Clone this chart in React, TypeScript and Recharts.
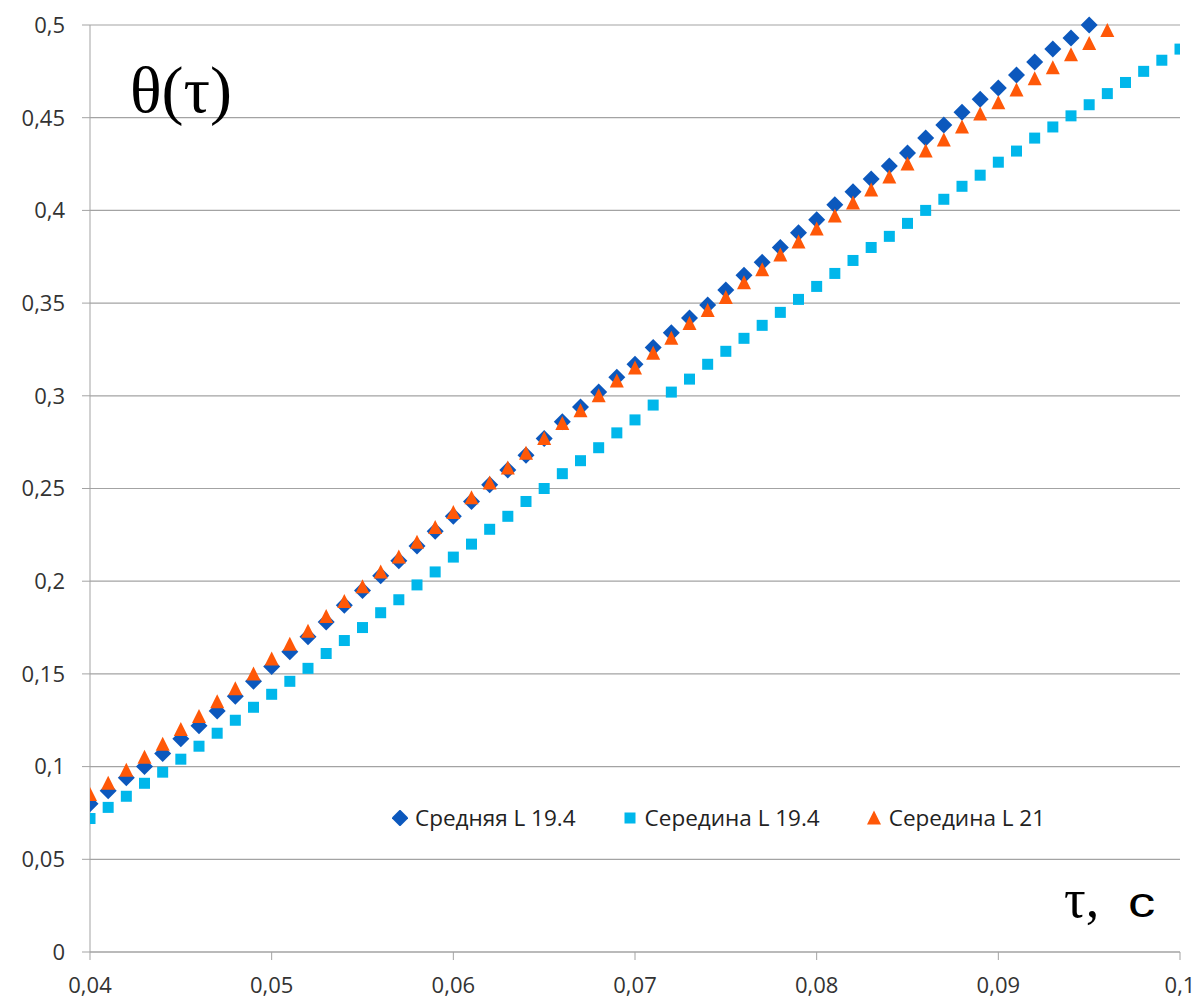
import React from 'react';
import {
  ScatterChart,
  Scatter,
  XAxis,
  YAxis,
  CartesianGrid,
  Legend,
} from 'recharts';

// tau, s (step 0.001)
const TAU = [
  0.040, 0.041, 0.042, 0.043, 0.044, 0.045, 0.046, 0.047, 0.048, 0.049,
  0.050, 0.051, 0.052, 0.053, 0.054, 0.055, 0.056, 0.057, 0.058, 0.059,
  0.060, 0.061, 0.062, 0.063, 0.064, 0.065, 0.066, 0.067, 0.068, 0.069,
  0.070, 0.071, 0.072, 0.073, 0.074, 0.075, 0.076, 0.077, 0.078, 0.079,
  0.080, 0.081, 0.082, 0.083, 0.084, 0.085, 0.086, 0.087, 0.088, 0.089,
  0.090, 0.091, 0.092, 0.093, 0.094, 0.095, 0.096, 0.097, 0.098, 0.099,
  0.100,
];

// Средняя L 19.4
const AVG_L194 = [
  0.080, 0.087, 0.094, 0.100, 0.107, 0.115, 0.122, 0.130, 0.138, 0.146,
  0.154, 0.162, 0.170, 0.178, 0.187, 0.195, 0.203, 0.211, 0.219, 0.227,
  0.235, 0.243, 0.252, 0.260, 0.268, 0.277, 0.286, 0.294, 0.302, 0.310,
  0.317, 0.326, 0.334, 0.342, 0.349, 0.357, 0.365, 0.372, 0.380, 0.388,
  0.395, 0.403, 0.410, 0.417, 0.424, 0.431, 0.439, 0.446, 0.453, 0.460,
  0.466, 0.473, 0.480, 0.487, 0.493, 0.500,
];

// Середина L 19.4
const MID_L194 = [
  0.072, 0.078, 0.084, 0.091, 0.097, 0.104, 0.111, 0.118, 0.125, 0.132,
  0.139, 0.146, 0.153, 0.161, 0.168, 0.175, 0.183, 0.190, 0.198, 0.205,
  0.213, 0.220, 0.228, 0.235, 0.243, 0.250, 0.258, 0.265, 0.272, 0.280,
  0.287, 0.295, 0.302, 0.309, 0.317, 0.324, 0.331, 0.338, 0.345, 0.352,
  0.359, 0.366, 0.373, 0.380, 0.386, 0.393, 0.400, 0.406, 0.413, 0.419,
  0.426, 0.432, 0.439, 0.445, 0.451, 0.457, 0.463, 0.469, 0.475, 0.481,
  0.487,
];

// Середина L 21
const MID_L21 = [
  0.085, 0.091, 0.098, 0.105, 0.112, 0.120, 0.127, 0.135, 0.142, 0.150,
  0.158, 0.166, 0.173, 0.181, 0.189, 0.197, 0.205, 0.213, 0.221, 0.229,
  0.237, 0.245, 0.253, 0.261, 0.269, 0.277, 0.285, 0.292, 0.300, 0.308,
  0.315, 0.323, 0.331, 0.339, 0.346, 0.353, 0.361, 0.368, 0.376, 0.383,
  0.390, 0.397, 0.404, 0.411, 0.418, 0.425, 0.432, 0.438, 0.445, 0.452,
  0.458, 0.465, 0.471, 0.477, 0.484, 0.490, 0.497,
];

const X_TICKS = [0.04, 0.05, 0.06, 0.07, 0.08, 0.09, 0.1];
const Y_TICKS = [0, 0.05, 0.1, 0.15, 0.2, 0.25, 0.3, 0.35, 0.4, 0.45, 0.5];

const SERIES = [
  { name: 'Средняя L 19.4', values: AVG_L194, color: '#0c58bd', marker: 'diamond' },
  { name: 'Середина L 19.4', values: MID_L194, color: '#00b7eb', marker: 'square' },
  { name: 'Середина L 21', values: MID_L21, color: '#ff5808', marker: 'triangle' },
];

const FONT = '"Open Sans", "Noto Sans", sans-serif';
const GRID = '#a3a3a3';
const TICK_STYLE = { fontSize: 22, fill: '#333', fontFamily: FONT };

const fmt = (v: number) => String(+v.toFixed(3)).replace('.', ',');

function Marker({ cx, cy, fill, kind }: { cx: number; cy: number; fill: string; kind: string }) {
  if (kind === 'diamond') {
    const r = 8.5;
    return <polygon points={`${cx},${cy - r} ${cx + r},${cy} ${cx},${cy + r} ${cx - r},${cy}`} fill={fill} />;
  }
  if (kind === 'square') {
    return <rect x={cx - 5.5} y={cy - 5.5} width={11} height={11} fill={fill} />;
  }
  return <polygon points={`${cx},${cy - 7.5} ${cx + 7},${cy + 6.5} ${cx - 7},${cy + 6.5}`} fill={fill} />;
}

function LegendIcon({ kind, color }: { kind: string; color: string }) {
  return (
    <svg width={16} height={16} style={{ marginRight: 7 }}>
      <Marker cx={8} cy={8} fill={color} kind={kind} />
    </svg>
  );
}

function LegendContent() {
  return (
    <div style={{ display: 'flex', alignItems: 'center', fontFamily: FONT, fontSize: 22.5, color: '#222', whiteSpace: 'nowrap' }}>
      {SERIES.map((s) => (
        <div key={s.name} style={{ display: 'flex', alignItems: 'center', marginRight: 46 }}>
          <LegendIcon kind={s.marker} color={s.color} />
          <span>{s.name}</span>
        </div>
      ))}
    </div>
  );
}

export default function App() {
  const tables = SERIES.map((s) => s.values.map((v, i) => ({ x: TAU[i], y: v })));

  return (
    <div style={{ position: 'absolute', left: 0, top: 0, width: 1204, height: 1008, background: '#fff' }}>
      <ScatterChart width={1204} height={1008} margin={{ top: 25, right: 24, bottom: 0, left: 0 }}>
        <CartesianGrid vertical={false} stroke={GRID} strokeWidth={1.2} />
        <XAxis
          type="number"
          dataKey="x"
          domain={[0.04, 0.1]}
          ticks={X_TICKS}
          tickFormatter={fmt}
          tick={TICK_STYLE}
          tickSize={8}
          tickMargin={17}
          height={56}
          stroke={GRID}
          allowDataOverflow
        />
        <YAxis
          type="number"
          dataKey="y"
          domain={[0, 0.5]}
          ticks={Y_TICKS}
          tickFormatter={fmt}
          tick={TICK_STYLE}
          tickSize={8}
          tickMargin={17}
          width={90}
          stroke={GRID}
        />
        <Legend
          layout="horizontal"
          verticalAlign="middle"
          align="center"
          content={<LegendContent />}
          wrapperStyle={{ left: 392, top: 802, width: 'auto' }}
        />
        {SERIES.map((s, k) => (
          <Scatter
            key={s.name}
            name={s.name}
            data={tables[k]}
            fill={s.color}
            isAnimationActive={false}
            shape={(p: any) => <Marker cx={p.cx} cy={p.cy} fill={s.color} kind={s.marker} />}
          />
        ))}
      </ScatterChart>
      <svg width={1204} height={1008} style={{ position: 'absolute', left: 0, top: 0, pointerEvents: 'none' }}>
        <text x={130} y={112} fontFamily='"Liberation Serif", "DejaVu Serif", serif' fontSize={66} fill="#000">
          θ(τ)
        </text>
        <text x={1064} y={917} fontFamily='"Liberation Serif", "DejaVu Serif", serif' fontSize={54} fill="#000">
          τ,
        </text>
        <text
          transform="translate(1128,917) scale(1.3,1)"
          fontFamily='"Liberation Sans", Arial, sans-serif'
          fontSize={42}
          fill="#000"
        >
          с
        </text>
      </svg>
    </div>
  );
}
